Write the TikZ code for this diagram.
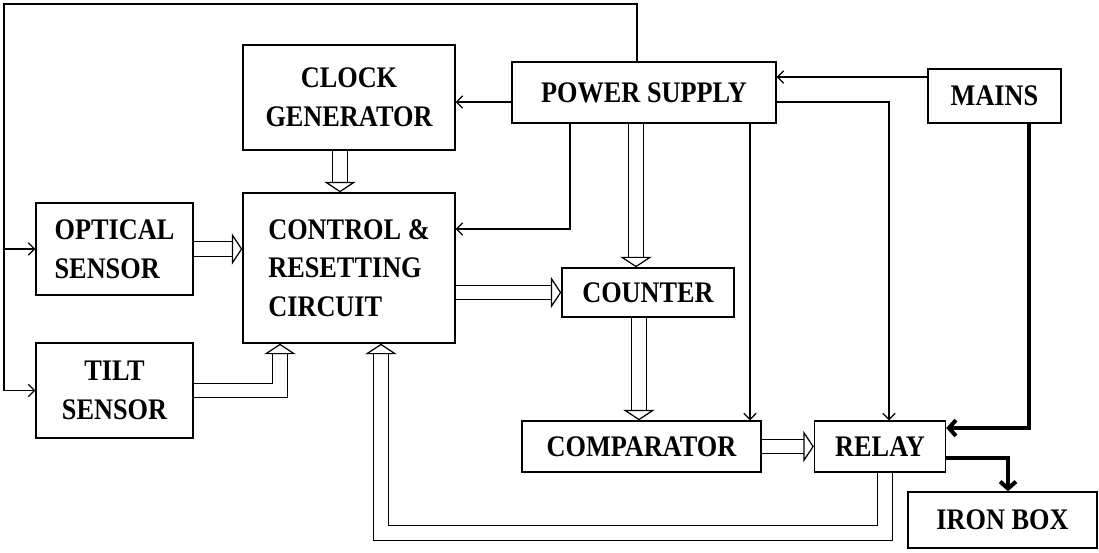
\documentclass[tikz,border=0pt]{standalone}
\usepackage{fontspec}
\setmainfont{Liberation Serif}[FakeStretch=0.88]
\usetikzlibrary{
    arrows.meta,   % Required for the barb and triangle tips
    positioning
}

\tikzset{
    block/.style={draw, line width=0.8pt, inner sep=2pt, align=center,
        font=\bfseries\fontsize{17}{22}\selectfont},
    thinarr/.style={line width=0.7pt, -{Straight Barb[length=3.5pt,width=7pt]}},
    dblarr/.style={double, double distance=7.5pt, line width=0.7pt,
        -{Triangle[open,length=6pt,width=18pt]}},
    boldarr/.style={line width=2.3pt, -{Straight Barb[length=4pt,width=9pt]}}
}

\begin{document}
\begin{tikzpicture}[x=0.02cm, y=-0.02cm]
        \useasboundingbox (0,0) rectangle (1099,552);

        % Blocks
        \node[block, minimum width=4.24cm, minimum height=2.1cm] (clock) at (349,97.5) {CLOCK\\GENERATOR};
        \node[block, minimum width=5.28cm, minimum height=1.22cm] (power) at (644,92.5) {POWER SUPPLY};
        \node[block, minimum width=2.66cm, minimum height=1.08cm] (mains) at (994.5,96) {MAINS};
        \node[block, align=left, minimum width=3.14cm, minimum height=1.84cm] (optical) at (114.5,249) {OPTICAL\\SENSOR};
        \node[block, align=left, minimum width=4.24cm, minimum height=3cm] (control) at (349,268) {CONTROL \&\\RESETTING\\CIRCUIT};
        \node[block, minimum width=3.44cm, minimum height=0.98cm] (counter) at (648,292.5) {COUNTER};
        \node[block, minimum width=3.14cm, minimum height=1.9cm] (tilt) at (114.5,390.5) {TILT\\SENSOR};
        \node[block, minimum width=4.78cm, minimum height=1.02cm] (comparator) at (641.5,446.5) {COMPARATOR};
        \node[block, minimum width=2.62cm, minimum height=1.02cm] (relay) at (880,446.5) {RELAY};
        \node[block, minimum width=3.78cm, minimum height=1.12cm] (iron) at (1002.5,520) {IRON BOX};

        % Supply lines
        \coordinate (loop) at (4,4);
        \draw[thinarr] (power.north -| 637,0) |- (loop) |- (tilt.west);
        \draw[thinarr] (loop |- optical.west) -- (optical.west);
        \draw[thinarr] ([yshift=-5.4pt]power.west) -- ([yshift=-5.4pt]power.west -| clock.east);
        \draw[thinarr] ([yshift=10.8pt]mains.west) -- ([yshift=10.8pt]mains.west -| power.east);
        \draw[thinarr] ([yshift=-5.4pt]power.east) -| (relay.north -| 889,0);
        \draw[thinarr] (power.south -| 570,0) |- (control.east |- 0,229);
        \draw[thinarr] (power.south -| 750,0) -- (comparator.north -| 750,0);

        % Data paths
        \draw[dblarr] (power.south -| 636,0) -- (counter.north -| 636,0);
        \draw[dblarr] (clock.south -| 340,0) -- (control.north -| 340,0);
        \draw[dblarr] (optical.east) -- (optical.east -| control.west);
        \draw[dblarr] (control.east |- counter.west) -- (counter.west);
        \draw[dblarr] (tilt.east) -| (control.south -| 280,0);
        \draw[dblarr] (counter.south -| 639,0) -- (comparator.north -| 639,0);
        \draw[dblarr] (comparator.east) -- (relay.west);
        \draw[dblarr] (relay.south -| 885,0) |- (381,533) -- (control.south -| 381,0);

        % Mains to load
        \draw[boldarr] (mains.south -| 1029,0) |- (relay.east |- 0,428);
        \draw[boldarr] (relay.east |- 0,458) -| (iron.north -| 1008,0);
    \end{tikzpicture}
\end{document}
